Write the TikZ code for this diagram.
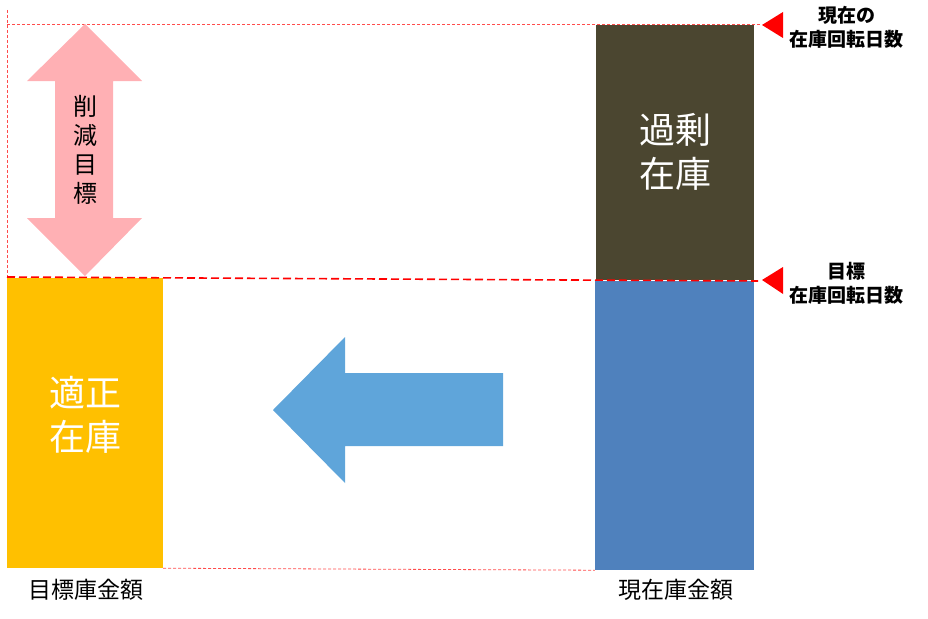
\documentclass[tikz,border=0pt]{standalone}
\usepackage{fontspec}
\setmainfont{Noto Sans CJK JP}
\definecolor{excesscol}{HTML}{4B4630}
\definecolor{curcol}{HTML}{4F81BD}
\definecolor{goodcol}{HTML}{FFC000}
\definecolor{pinkcol}{HTML}{FFB0B4}
\definecolor{arrowblue}{HTML}{5FA5DA}
\definecolor{linered}{HTML}{FF0000}
\begin{document}
\begin{tikzpicture}[x=1pt,y=-1pt,
  bar/.style={draw=none, inner sep=0pt, anchor=center},
  bigtext/.style={text=white, align=center, font=\fontsize{36}{44}\selectfont},
  sidelabel/.style={align=center, font=\bfseries\fontsize{19}{24}\selectfont},
  botlabel/.style={font=\fontsize{23}{26}\selectfont},
  thinline/.style={draw=linered!70, line width=0.8pt, dash pattern=on 3pt off 2pt},
  thickline/.style={draw=linered, line width=1.6pt, dash pattern=on 8pt off 4pt},
  marker/.style={fill=linered, draw=none}]
\useasboundingbox (0,0) rectangle (928,618);
% boxes
\node[bar, fill=excesscol, minimum width=158pt, minimum height=255pt] (excess) at (675,152.5) {};
\node[bar, fill=curcol, minimum width=159pt, minimum height=289pt] (current) at (674.5,425.5) {};
\node[bar, fill=goodcol, minimum width=156pt, minimum height=290pt] (proper) at (85,423) {};
% box texts
\node[bigtext] (excesstext) at (675,151.5) {過剰\\在庫};
\node[bigtext] (propertext) at (85,414.5) {適正\\在庫};
% reference lines
\coordinate (topL) at (7,24);
\coordinate (topR) at (762,24);
\coordinate (vtop) at (7,10);
\coordinate (vbot) at (7,277);
\coordinate (tgtL) at (7,277);
\coordinate (tgtR) at (758,281);
\draw[thinline] (topL) -- (topR);
\draw[thinline] (vtop) -- (vbot);
\draw[thickline] (tgtL) -- (tgtR);
\draw[thinline] (proper.south east) -- (current.south west);
% pink double arrow
\fill[pinkcol] (85,24) -- (142,81) -- (113,81) -- (113,218) -- (142,218) -- (85,276)
  -- (27,218) -- (55,218) -- (55,81) -- (27,81) -- cycle;
\node[align=center, font=\fontsize{24}{29}\selectfont] (reduce) at (85,150) {削\\減\\目\\標};
% blue left arrow
\fill[arrowblue] (273,410) -- (345,337) -- (345,373) -- (503,373) -- (503,446)
  -- (345,446) -- (345,483) -- cycle;
% red markers
\fill[marker] (762,25) -- (783,12) -- (783,38) -- cycle;
\fill[marker] (762,280) -- (783,267) -- (783,294) -- cycle;
% side labels
\node[sidelabel] (curdays) at (846.5,27.5) {現在の\\在庫回転日数};
\node[sidelabel] (tgtdays) at (846.5,283.5) {目標\\在庫回転日数};
% bottom labels
\node[botlabel] (tgtamount) at (86,590) {目標庫金額};
\node[botlabel] (curamount) at (676,590) {現在庫金額};
\end{tikzpicture}
\end{document}
